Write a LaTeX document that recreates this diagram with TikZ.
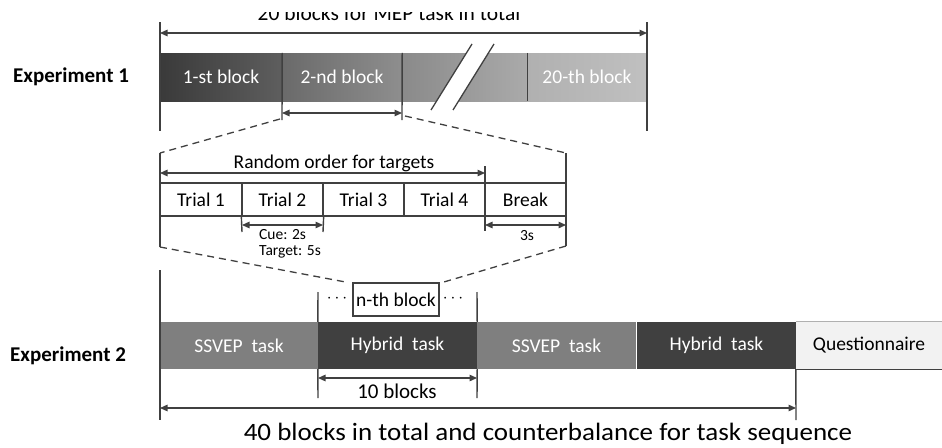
\documentclass[tikz,border=0pt]{standalone}
\usepackage{fontspec}
\setmainfont{Carlito}
\usetikzlibrary{arrows.meta}
\definecolor{lc}{HTML}{404040}
\definecolor{gA}{HTML}{3A3A3A}
\definecolor{gB}{HTML}{5E5E5E}
\definecolor{gC}{HTML}{6A6A6A}
\definecolor{gD}{HTML}{8E8E8E}
\definecolor{gE}{HTML}{8A8A8A}
\definecolor{gF}{HTML}{AAAAAA}
\definecolor{gG}{HTML}{B0B0B0}
\definecolor{gH}{HTML}{C0C0C0}
\definecolor{ssv}{HTML}{7F7F7F}
\definecolor{hyb}{HTML}{404040}
\definecolor{qbg}{HTML}{F2F2F2}
\newcommand{\fsz}[1]{\fontsize{#1}{#1}\selectfont}
\begin{document}
\begin{tikzpicture}[x=1pt,y=-1pt,
  ln/.style={draw=lc, line width=1.4pt},
  arr/.style={draw=lc, line width=1.3pt, {Triangle[length=7.5pt,width=6.5pt]}-{Triangle[length=7.5pt,width=6.5pt]}},
  dsh/.style={draw=lc, line width=1.3pt, dash pattern=on 7pt off 5pt},
  blk/.style={rectangle, inner sep=0pt, minimum height=48pt, text=white, font=\fsz{19.5}},
  tri/.style={rectangle, draw=lc, line width=1.3pt, fill=white, inner sep=0pt, minimum width=81pt, minimum height=33pt, font=\fsz{19.5}},
  tsk/.style={rectangle, inner sep=0pt, minimum height=47pt, font=\fsz{19.5}},
  lbl/.style={inner sep=0pt, font=\fsz{21}\bfseries, anchor=base west},
  txt/.style={inner sep=0pt, anchor=base},
  sml/.style={inner sep=0pt, font=\fsz{15.5}},
]
\useasboundingbox (0,0) rectangle (942,447);

% ---------- Experiment 1 ----------
\node[lbl] (ex1) at (13,82) {Experiment 1};

\begin{scope}
\clip (100,12.5) rectangle (800,30);
\node[txt, font=\fsz{21.5}] (ttl) at (389,20) {20 blocks for MEP task in total};
\end{scope}

\node[blk, minimum width=122pt, left color=gA, right color=gB] (b1) at (221,77) {1-st block};
\node[blk, minimum width=120pt, left color=gC, right color=gD] (b2) at (342,77) {2-nd block};
\node[blk, minimum width=125pt, left color=gE, right color=gF] (b3) at (464.5,77) {};
\node[blk, minimum width=120pt, left color=gG, right color=gH] (b4) at (587,77) {20-th block};

% break mark
\fill[white] (431,110) -- (472,44) -- (494,44) -- (453,110) -- cycle;
\draw[lc, line width=1.3pt] (431,110) -- (472,44);
\draw[lc, line width=1.3pt] (453,110) -- (494,44);

% ticks and dividers
\coordinate (t1a) at (160,22);  \coordinate (t1b) at (160,131);
\coordinate (t2a) at (647,22);  \coordinate (t2b) at (647,131);
\draw[ln] (t1a) -- (t1b);
\draw[ln] (t2a) -- (t2b);
\coordinate (d1) at (282,120);
\coordinate (d2) at (402,120);
\draw[ln] (b1.north east) -- (d1);
\draw[ln] (b2.north east) -- (d2);
\draw[ln] (b3.north east) -- (b3.south east);

\coordinate (a1) at (160,33); \coordinate (a2) at (647,33);
\draw[arr] (a1) -- (a2);
\coordinate (a3) at (282,113); \coordinate (a4) at (402,113);
\draw[arr] (a3) -- (a4);

% ---------- trial row ----------
\node[tri] (tr1) at (201,199.5) {Trial 1};
\node[tri] (tr2) at (282.5,199.5) {Trial 2};
\node[tri] (tr3) at (363.5,199.5) {Trial 3};
\node[tri] (tr4) at (444.5,199.5) {Trial 4};
\node[tri] (tr5) at (525.5,199.5) {Break};

\coordinate (u1a) at (160,153); \coordinate (u1b) at (160,247);
\coordinate (u2a) at (566,153); \coordinate (u2b) at (566,246);
\draw[ln] (u1a) -- (u1b);
\draw[ln] (u2a) -- (u2b);
\coordinate (v1a) at (485,166); \coordinate (v1b) at (485,231);
\draw[ln] (v1a) -- (v1b);
\coordinate (w1) at (242,232); \coordinate (w2) at (323,232);
\draw[ln] (tr2.south west) -- (w1);
\draw[ln] (tr2.south east) -- (w2);

\coordinate (r1) at (160,173); \coordinate (r2) at (485,173);
\draw[arr] (r1) -- (r2);
\node[txt, font=\fsz{19.5}] (rot) at (334,168) {Random order for targets};

\coordinate (c1) at (242,225); \coordinate (c2) at (323,225);
\draw[arr] (c1) -- (c2);
\node[sml, anchor=base west] (cue) at (259,239) {Cue: 2s};
\node[sml, anchor=base west] (tgt) at (259,255) {Target: 5s};
\coordinate (k1) at (485,225); \coordinate (k2) at (566,225);
\draw[arr] (k1) -- (k2);
\node[sml, anchor=base] (brk) at (527,240) {3s};

% dashed zoom lines (top)
\coordinate (zt1) at (280,119);
\coordinate (zt2) at (405,116);
\draw[dsh] (zt1) -- (u1a);
\draw[dsh] (zt2) -- (u2a);

% ---------- Experiment 2 ----------
\node[lbl] (ex2) at (10,361) {Experiment 2};

\node[tsk, fill=ssv, text=white, minimum width=158pt] (s1) at (239,345.5) {SSVEP~~task};
\node[tsk, fill=hyb, text=white, minimum width=159pt] (h1) at (397.5,345.5) {Hybrid~~task};
\node[tsk, fill=ssv, text=white, minimum width=159pt] (s2) at (556.5,345.5) {SSVEP~~task};
\node[tsk, fill=hyb, text=white, minimum width=160pt] (h2) at (716.5,345.5) {Hybrid~~task};
\node[tsk, fill=qbg, text=black, minimum width=146pt] (q) at (869,345.5) {Questionnaire};
\draw[draw=gG, line width=1pt] (q.north west) -- (q.north east);
\draw[draw=lc, line width=1.2pt] (q.south west) -- (q.south east);

% n-th block
\node[rectangle, draw=lc, line width=1.3pt, inner sep=0pt, minimum width=86pt, minimum height=33pt, font=\fsz{19.5}] (nb) at (396,299.5) {n-th block};
\node[font=\fsz{19}, inner sep=0pt] (dl) at (337,299) {$\cdots$};
\node[font=\fsz{19}, inner sep=0pt] (dr) at (453,299) {$\cdots$};

\coordinate (x0a) at (160,270); \coordinate (x0b) at (160,420);
\draw[ln] (x0a) -- (x0b);
\coordinate (x1a) at (318,292); \coordinate (x1b) at (318,398);
\coordinate (x2a) at (477,292); \coordinate (x2b) at (477,398);
\draw[ln] (x1a) -- (h1.north west);
\draw[ln] (h1.south west) -- (x1b);
\draw[ln] (x2a) -- (h1.north east);
\draw[ln] (h1.south east) -- (x2b);
\coordinate (x3b) at (796,420);
\draw[ln] (q.south west) -- (x3b);

\coordinate (m1) at (318,378); \coordinate (m2) at (477,378);
\draw[arr] (m1) -- (m2);
\node[txt, font=\fsz{21}] (tenb) at (397,398) {10 blocks};

\coordinate (n1) at (160,408); \coordinate (n2) at (796,408);
\draw[arr] (n1) -- (n2);
\node[txt, font=\fsz{25}] (fortyb) at (548,440) {\scalebox{1.08}[1]{40 blocks in total and counterbalance for task sequence}};

% dashed zoom lines (bottom)
\draw[dsh] (u1b) -- ([xshift=-5pt]nb.north west);
\draw[dsh] (u2b) -- ([xshift=3pt]nb.north east);
\end{tikzpicture}
\end{document}
